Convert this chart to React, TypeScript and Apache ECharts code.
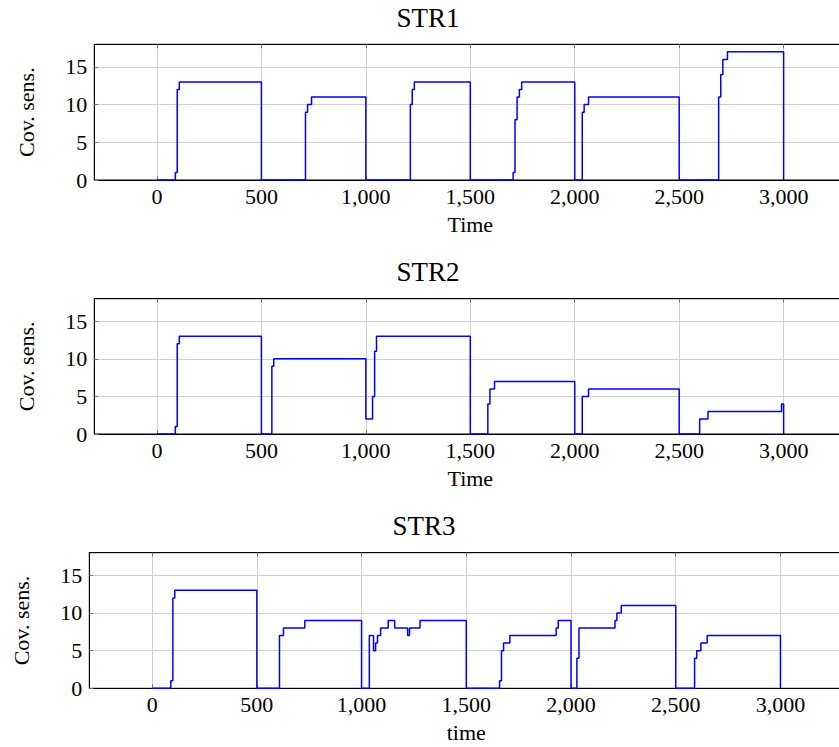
import React, { useEffect, useRef } from "react";
import * as echarts from "echarts";

// STR1 step data: time at which value changes, and the new value
const str1Times = [0, 88, 97, 107, 500, 711, 721, 740, 1000, 1213, 1222, 1232, 1500, 1705, 1714, 1724, 1735, 1746, 2000, 2036, 2045, 2066, 2500, 2689, 2699, 2709, 2731, 3000];
const str1Values = [0, 1, 12, 13, 0, 9, 10, 11, 0, 10, 12, 13, 0, 1, 8, 11, 12, 13, 0, 9, 10, 11, 0, 11, 14, 16, 17, 0];

const str2Times = [0, 88, 97, 107, 500, 550, 559, 1000, 1032, 1042, 1051, 1500, 1584, 1594, 1616, 2000, 2036, 2066, 2500, 2598, 2638, 2990, 3000];
const str2Values = [0, 1, 12, 13, 0, 9, 10, 2, 5, 11, 13, 0, 4, 6, 7, 0, 5, 6, 0, 2, 3, 4, 0];

const str3Times = [0, 89, 99, 108, 500, 608, 627, 729, 1000, 1037, 1057, 1067, 1076, 1091, 1127, 1158, 1220, 1229, 1279, 1500, 1659, 1668, 1678, 1708, 1929, 1939, 2000, 2028, 2038, 2210, 2219, 2240, 2500, 2590, 2600, 2620, 2650, 3000];
const str3Values = [0, 1, 12, 13, 0, 7, 8, 9, 0, 7, 5, 6, 7, 8, 9, 8, 7, 8, 9, 0, 1, 5, 6, 7, 8, 9, 0, 4, 8, 9, 10, 11, 0, 4, 5, 6, 7, 0];

const panelTitles = ["STR1", "STR2", "STR3"];
const xAxisNames = ["Time", "Time", "time"];
const yAxisName = "Cov. sens.";
const xTickValues = [0, 500, 1000, 1500, 2000, 2500, 3000];
const xMin = -300;
const xMax = 3300;
const yMin = 0;
const yMax = 18;
const yInterval = 5;

const SERIF = "'Liberation Serif', 'Times New Roman', serif";
const TITLE_FONT = "'Liberation Serif', serif";

export default function App() {
  const ref = useRef<HTMLDivElement>(null);

  useEffect(() => {
    if (!ref.current) return;
    const chart = echarts.init(ref.current, null, { renderer: "svg" });

    const grids = [
      { left: 94.3, top: 44.3, height: 135.7, width: 752 },
      { left: 94.3, top: 298.7, height: 135.3, width: 752 },
      { left: 89.3, top: 552.7, height: 135.6, width: 754 },
    ];
    const titleTops = [4, 258, 512];
    const titleLefts = [428, 428, 424];
    const seriesData = [
      str1Times.map((t, i) => [t, str1Values[i]]),
      str2Times.map((t, i) => [t, str2Values[i]]),
      str3Times.map((t, i) => [t, str3Values[i]]),
    ];

    const fmt = (v: number) => Number(v).toLocaleString("en-US");

    const xAxes: any[] = [];
    const yAxes: any[] = [];
    grids.forEach((_, i) => {
      xAxes.push({
        type: "value",
        gridIndex: i,
        position: "bottom",
        min: xMin,
        max: xMax,
        name: xAxisNames[i],
        nameLocation: "middle",
        nameGap: 33,
        nameTextStyle: { fontFamily: SERIF, fontSize: 22, color: "#000" },
        axisLine: { show: true, onZero: false, lineStyle: { color: "#000", width: 1 } },
        axisTick: {
          show: true,
          inside: true,
          length: 4,
          customValues: xTickValues,
          lineStyle: { color: "#777" },
        },
        axisLabel: {
          customValues: xTickValues,
          formatter: fmt,
          fontFamily: SERIF,
          fontSize: 22,
          color: "#000",
          margin: 5,
        },
        splitLine: { show: true, lineStyle: { color: "#cfcfcf", width: 1 } },
      });
    });
    grids.forEach((_, i) => {
      xAxes.push({
        type: "value",
        gridIndex: i,
        position: "top",
        min: xMin,
        max: xMax,
        axisLine: { show: true, onZero: false, lineStyle: { color: "#000", width: 1 } },
        axisTick: {
          show: true,
          inside: true,
          length: 4,
          customValues: xTickValues,
          lineStyle: { color: "#777" },
        },
        axisLabel: { show: false },
        splitLine: { show: false },
      });
    });
    grids.forEach((_, i) => {
      yAxes.push({
        type: "value",
        gridIndex: i,
        position: "left",
        min: yMin,
        max: yMax,
        interval: yInterval,
        name: yAxisName,
        nameLocation: "middle",
        nameRotate: 90,
        nameGap: 57,
        nameTextStyle: { fontFamily: SERIF, fontSize: 22, color: "#000" },
        axisLine: { show: true, onZero: false, lineStyle: { color: "#000", width: 1 } },
        axisTick: { show: true, inside: true, length: 4, lineStyle: { color: "#777" } },
        axisLabel: {
          showMaxLabel: false,
          fontFamily: SERIF,
          fontSize: 22,
          color: "#000",
          margin: 7,
          formatter: (v: number) => (v === yMax ? "" : String(v)),
        },
        splitLine: { show: true, lineStyle: { color: "#cfcfcf", width: 1 } },
      });
    });

    chart.setOption({
      animation: false,
      backgroundColor: "#fff",
      title: panelTitles.map((t, i) => ({
        text: t,
        left: titleLefts[i],
        top: titleTops[i],
        padding: 0,
        textAlign: "center",
        textStyle: { fontFamily: TITLE_FONT, fontSize: 27, fontWeight: "normal", color: "#000" },
      })),
      grid: grids.map((g) => ({
        ...g,
        show: true,
        borderColor: "#000",
        borderWidth: 1,
        backgroundColor: "transparent",
        containLabel: false,
        outerBoundsMode: "none",
      })),
      xAxis: xAxes,
      yAxis: yAxes,
      series: seriesData.map((d, i) => ({
        type: "line",
        xAxisIndex: i,
        yAxisIndex: i,
        step: "end",
        showSymbol: false,
        symbol: "none",
        data: d,
        lineStyle: { color: "#0000ff", width: 1.5 },
        itemStyle: { color: "#0000ff" },
      })),
    });

    return () => chart.dispose();
  }, []);

  return (
    <div
      ref={ref}
      style={{ position: "fixed", left: 0, top: 0, width: 839, height: 747, background: "#fff" }}
    />
  );
}
